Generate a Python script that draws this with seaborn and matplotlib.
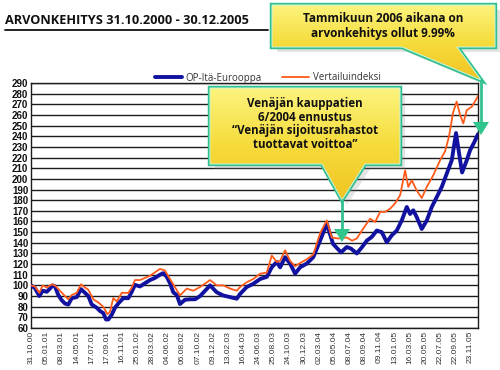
import numpy as np
import pandas as pd
import matplotlib
matplotlib.use("Agg")
import matplotlib.pyplot as plt
from matplotlib.patches import Polygon
from matplotlib.colors import LinearSegmentedColormap
import seaborn as sns

# ----------------------------------------------------------- data
otsikko = "ARVONKEHITYS 31.10.2000 - 30.12.2005"
sarja_nimet = ["OP-Itä-Eurooppa", "Vertailuindeksi"]

paivat = ["31.10.00", "05.01.01", "08.03.01", "14.05.01", "17.07.01", "17.09.01",
          "16.11.01", "25.01.02", "28.03.02", "04.06.02", "06.08.02", "07.10.02",
          "09.12.02", "13.02.03", "16.04.03", "24.06.03", "25.08.03", "24.10.03",
          "30.12.03", "02.03.04", "05.05.04", "08.07.04", "08.09.04", "09.11.04",
          "13.01.05", "16.03.05", "20.05.05", "22.07.05", "22.09.05", "23.11.05"]

# positions in "tick units" (0 = 31.10.00, 29 = 23.11.05), last point 30.12.05
op_pos = [0, 0.26, 0.55, 0.77, 1.04, 1.25, 1.43, 1.58, 1.80, 2.03, 2.24, 2.46, 2.69,
          3.02, 3.30, 3.56, 3.78, 4.01, 4.34, 4.55, 4.77, 4.95, 5.10, 5.33, 5.54, 5.76,
          6.09, 6.42, 6.65, 6.86, 7.19, 7.52, 7.85, 8.18, 8.51, 8.73, 8.96, 9.19, 9.39,
          9.62, 9.83, 10.16, 10.50, 10.83, 11.16, 11.49, 11.82, 12.26, 12.69, 13.14,
          13.58, 13.80, 14.24, 14.67, 15.12, 15.56, 15.89, 16.22, 16.44, 16.77, 17.10,
          17.43, 17.76, 18.20, 18.63, 19.08, 19.52, 19.93, 20.26, 20.46, 20.84, 21.12,
          21.50, 21.85, 22.16, 22.49, 22.82, 23.15, 23.48, 23.81, 24.14, 24.47, 24.80,
          25.02, 25.23, 25.46, 25.79, 26.12, 26.45, 26.78, 27.11, 27.44, 27.77, 28.05,
          28.25, 28.45, 28.76, 28.98, 29.24, 29.50]
op_arvo = [100, 97.5, 90, 95, 94, 97, 100, 99, 91, 86, 83, 82, 88,
           89, 96.5, 93, 90, 82, 79, 76, 74, 68, 68, 72.5, 79, 83,
           88, 88, 94, 100.5, 99, 102, 105, 107, 110, 111.5, 108, 101.5, 93.5,
           91, 82.5, 86.5, 87, 87, 90, 95, 100, 93.5, 90.5, 89,
           87.5, 92, 98.5, 101.5, 106, 108, 117, 122, 117, 126.5, 120.5,
           111, 117, 120.5, 126.5, 142, 158, 139, 134, 131, 136, 134.5,
           130, 136, 142, 145.5, 151.5, 150, 140.5, 147, 151.5, 161, 173.6,
           167, 170.5, 164, 153, 161, 173.6, 183, 192.5, 205, 217.5, 243,
           224, 206, 217.5, 227, 234, 242]

vi_pos = [0, 0.26, 0.55, 0.77, 1.04, 1.37, 1.58, 1.91, 2.24, 2.46, 2.69, 3.02, 3.30,
          3.56, 3.78, 4.11, 4.44, 4.77, 5.04, 5.21, 5.43, 5.66, 5.99, 6.42, 6.65, 6.86,
          7.19, 7.85, 8.51, 8.84, 9.17, 9.50, 9.83, 10.28, 10.71, 11.16, 11.82, 12.26,
          12.69, 13.14, 13.58, 13.80, 14.24, 14.67, 15.12, 15.56, 15.89, 16.22, 16.44,
          16.77, 17.10, 17.43, 17.76, 18.20, 18.63, 19.08, 19.52, 19.85, 20.26, 20.84,
          21.19, 21.50, 21.91, 22.38, 22.71, 23.04, 23.37, 23.70, 24.03, 24.36, 24.69,
          24.90, 25.13, 25.46, 25.79, 26.12, 26.55, 27.00, 27.33, 27.59, 27.85, 28.09,
          28.32, 28.53, 28.76, 29.09, 29.42, 29.50]
vi_arvo = [100, 99, 93, 100, 98, 101, 100, 95, 90, 87, 91, 93, 101,
           98, 96, 87, 84, 80, 73, 75, 88, 85, 93, 93, 98, 105,
           105, 109, 115.5, 114, 106, 98.5, 90.5, 97, 95, 98.5, 105, 100,
           100, 97, 95, 98.5, 103, 106, 111, 112, 128, 122, 123,
           133, 123, 118, 121, 124.5, 129, 149, 161, 145, 144, 145,
           142, 144, 153, 162.6, 159.5, 169, 169, 172, 177, 184.6, 208,
           192.5, 198.7, 189, 182, 192.5, 203.4, 217.5, 226, 240, 262, 272.5,
           260, 252, 264.6, 267.7, 275.6, 278]

laatikko1 = "Venäjän kauppatien\n6/2004 ennustus\n“Venäjän sijoitusrahastot\ntuottavat voittoa”"
laatikko2 = "Tammikuun 2006 aikana on\narvonkehitys ollut 9.99%"

sininen = "#1212a0"
oranssi = "#ff5a1a"

# ----------------------------------------------------------- plot
sns.set_theme(style="white")
plt.rcParams['font.family'] = ['Liberation Sans', 'DejaVu Sans']

fig = plt.figure(figsize=(5, 3.7), dpi=100)
ax = fig.add_axes([31 / 500, 1 - 328 / 370, 447 / 500, 245 / 370])

df_op = pd.DataFrame({"pos": op_pos, "arvo": op_arvo})
df_vi = pd.DataFrame({"pos": vi_pos, "arvo": vi_arvo})
sns.lineplot(data=df_op, x="pos", y="arvo", color=sininen, lw=2.8, ax=ax,
             label=sarja_nimet[0], zorder=3)
sns.lineplot(data=df_vi, x="pos", y="arvo", color=oranssi, lw=1.3, ax=ax,
             label=sarja_nimet[1], zorder=4)

ax.set_xlim(0, 29.5)
ax.set_ylim(60, 290)
ax.set_yticks(np.arange(60, 291, 10))
ax.set_yticklabels([str(v) for v in range(60, 291, 10)], fontsize=7, fontweight="bold", color="#111")
ax.set_xticks(range(len(paivat)))
ax.set_xticklabels(paivat, rotation=90, fontsize=6, color="#333")
ax.tick_params(axis="both", length=0, pad=2)
ax.set_xlabel("")
ax.set_ylabel("")
ax.set_axisbelow(True)
ax.yaxis.grid(True, color="#1c1c1c", lw=1.0)
for s in ax.spines.values():
    s.set_color("#1c1c1c")
    s.set_linewidth(1.0)

hand, lab = ax.get_legend_handles_labels()
ax.get_legend().remove()
fig.legend(hand, lab, loc="center left", bbox_to_anchor=(146 / 500, 1 - 78 / 370),
           ncol=2, frameon=False, fontsize=7, handlelength=2.8, handletextpad=0.4,
           columnspacing=2.0, labelcolor="#333",
           prop={"family": "Open Sans", "size": 7})

# ----------------------------------------------------------- overlay: title + callouts
ov = fig.add_axes([0, 0, 1, 1], zorder=10)
ov.patch.set_alpha(0)

ov.text(5, 20.5, otsikko, fontsize=9.2, fontweight="bold", family="Open Sans",
        va="center", ha="left", color="#111")
ov.plot([5, 268], [29.5, 29.5], color="#111", lw=1.3)

keltainen = LinearSegmentedColormap.from_list("kelt", ["#fcf47e", "#f6dc3c", "#f0c422"])


def puhekupla(pisteet, teksti, tx, ty, koko, rivivali):
    varjo = Polygon([(x + 5, y + 5) for x, y in pisteet], closed=True,
                    facecolor="#888", edgecolor="none", alpha=0.22)
    ov.add_patch(varjo)
    poly = Polygon(pisteet, closed=True, facecolor="none", edgecolor="#33c08e", lw=3.2,
                   joinstyle="miter")
    ov.add_patch(poly)
    xs = [p[0] for p in pisteet]
    ys = [p[1] for p in pisteet]
    grad = np.linspace(0, 1, 200)[:, None]
    im = ov.imshow(grad, cmap=keltainen, aspect="auto", origin="upper",
                   extent=(min(xs), max(xs), max(ys), min(ys)), zorder=1)
    im.set_clip_path(poly)
    ov.add_patch(Polygon(pisteet, closed=True, facecolor="none", edgecolor="#c9f5e2",
                         lw=0.7, joinstyle="miter", zorder=3))
    ov.text(tx, ty, teksti, fontsize=koko, fontweight="bold", family="Open Sans",
            ha="center", va="center", color="#111", linespacing=rivivali, zorder=4)


def nuoli(x, y0, y1):
    ov.plot([x, x], [y0, y1 - 12], color="#33c08e", lw=2.0, zorder=5)
    ov.add_patch(Polygon([(x - 8, y1 - 13), (x + 8, y1 - 13), (x, y1)], closed=True,
                         facecolor="#2fc58c", edgecolor="none", zorder=5))


puhekupla([(210, 88), (400, 88), (400, 164), (365, 164), (342, 200), (322, 164), (210, 164)],
          laatikko1, 305, 124, 8.3, 1.08)
nuoli(342, 200, 242)

puhekupla([(272, 5), (495, 5), (495, 47), (457, 47), (481, 80), (402, 47), (272, 47)],
          laatikko2, 383, 26, 8.5, 1.15)
nuoli(481, 80, 135)

ov.set_xlim(0, 500)
ov.set_ylim(370, 0)
ov.axis("off")

fig.savefig("out.png", dpi=100)
